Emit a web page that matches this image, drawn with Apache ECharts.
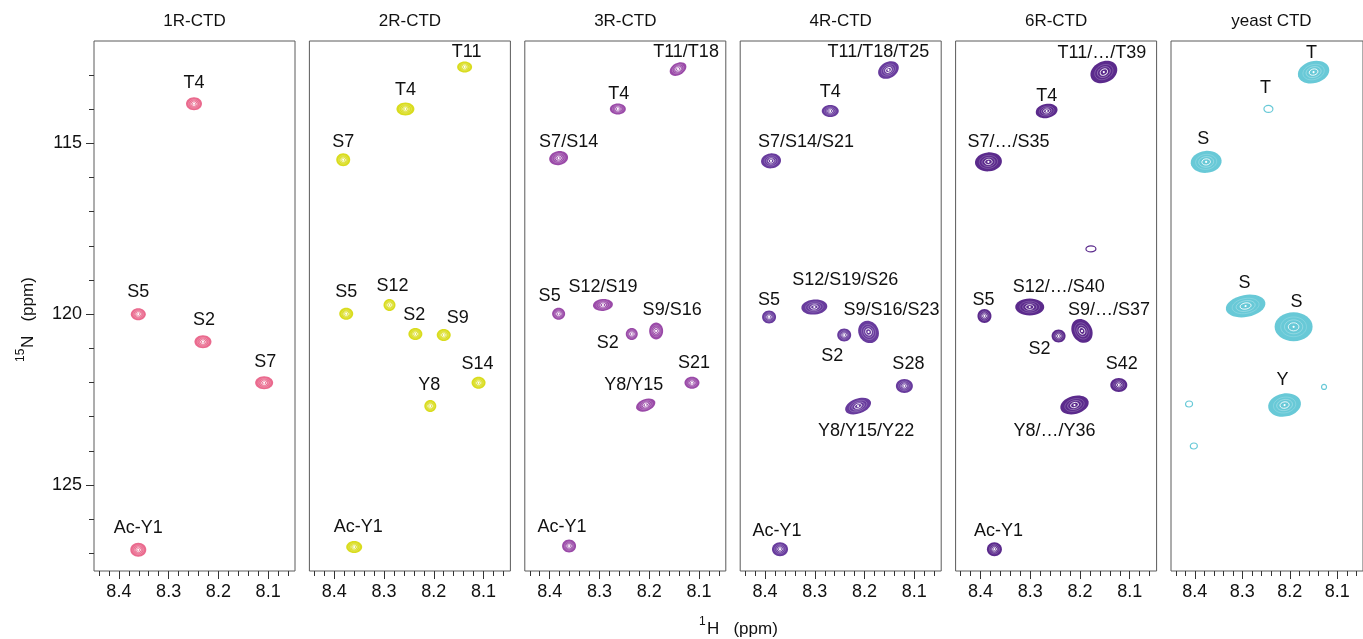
<!DOCTYPE html>
<html>
<head>
<meta charset="utf-8">
<title>CTD 1H-15N HSQC spectra</title>
<script src="https://cdn.jsdelivr.net/npm/echarts@6/dist/echarts.min.js"></script>
<style>
  html, body { margin: 0; padding: 0; background: #ffffff; }
  #chart { width: 1363px; height: 639px; }
</style>
</head>
<body>
<div id="chart"></div>
<script>
// Panel titles
const panelTitles = ['1R-CTD', '2R-CTD', '3R-CTD', '4R-CTD', '6R-CTD', 'yeast CTD'];

// Tick labels
const hTickLabels = [8.1, 8.2, 8.3, 8.4];
const nTickLabels = [115, 120, 125];

// Peak lists: [1H ppm, 15N ppm, assignment]
const peaks1R = [
  [8.249, 113.84, 'T4'],
  [8.361, 120.00, 'S5'],
  [8.231, 120.81, 'S2'],
  [8.108, 122.01, 'S7'],
  [8.361, 126.90, 'Ac-Y1']
];
const peaks2R = [
  [8.138, 112.76, 'T11'],
  [8.257, 113.99, 'T4'],
  [8.382, 115.48, 'S7'],
  [8.376, 119.99, 'S5'],
  [8.289, 119.73, 'S12'],
  [8.237, 120.58, 'S2'],
  [8.180, 120.61, 'S9'],
  [8.110, 122.01, 'S14'],
  [8.207, 122.69, 'Y8'],
  [8.360, 126.82, 'Ac-Y1']
];
const peaks3R = [
  [8.142, 112.82, 'T11/T18'],
  [8.263, 113.99, 'T4'],
  [8.382, 115.43, 'S7/S14'],
  [8.382, 119.99, 'S5'],
  [8.293, 119.73, 'S12/S19'],
  [8.235, 120.58, 'S2'],
  [8.186, 120.49, 'S9/S16'],
  [8.114, 122.01, 'S21'],
  [8.207, 122.66, 'Y8/Y15'],
  [8.361, 126.79, 'Ac-Y1']
];
const peaks4R = [
  [8.152, 112.85, 'T11/T18/T25'],
  [8.269, 114.05, 'T4'],
  [8.388, 115.51, 'S7/S14/S21'],
  [8.392, 120.08, 'S5'],
  [8.301, 119.79, 'S12/S19/S26'],
  [8.241, 120.61, 'S2'],
  [8.192, 120.52, 'S9/S16/S23'],
  [8.120, 122.10, 'S28'],
  [8.213, 122.69, 'Y8/Y15/Y22'],
  [8.370, 126.88, 'Ac-Y1']
];
const peaks6R = [
  [8.152, 112.91, 'T11/…/T39'],
  [8.267, 114.05, 'T4'],
  [8.384, 115.54, 'S7/…/S35'],
  [8.178, 118.09, ''],
  [8.392, 120.05, 'S5'],
  [8.301, 119.79, 'S12/…/S40'],
  [8.243, 120.64, 'S2'],
  [8.196, 120.49, 'S9/…/S37'],
  [8.122, 122.07, 'S42'],
  [8.211, 122.66, 'Y8/…/Y36'],
  [8.372, 126.88, 'Ac-Y1']
];
const peaksYeast = [
  [8.150, 112.91, 'T'],
  [8.245, 113.99, 'T'],
  [8.376, 115.54, 'S'],
  [8.293, 119.76, 'S'],
  [8.192, 120.37, 'S'],
  [8.211, 122.66, 'Y'],
  [8.412, 122.63, ''],
  [8.402, 123.86, ''],
  [8.128, 122.13, '']
];
const panelPeaks = [peaks1R, peaks2R, peaks3R, peaks4R, peaks6R, peaksYeast];

// Contour colours per construct
const panelColors = ['#ea6a8e', '#d9dc1e', '#9a4aa8', '#683b9d', '#5b2a8c', '#68c9d7'];

// Drawing style per peak: [width px, height px, tilt deg, label dx, label dy, outline-only]
const peakStyles = [
  [[16,13,0,0,-21],[15,12,0,0,-22],[17,13,0,1,-22],[18,13,0,1,-21],[16,14,0,0,-22]],
  [[15,11,0,2,-15],[18,13,0,0,-19],[14,13,0,0,-18],[14,12,0,0,-22],[12,12,0,3,-19],
   [14,12,0,-1,-19],[14,12,0,14,-17],[14,12,0,-1,-19],[12,12,0,-1,-21],[16,12,0,4,-20]],
  [[18,12,30,8,-17],[16,11,0,1,-15],[19,14,10,10,-16],[13,12,0,-9,-18],[20,12,5,0,-18],
   [12,12,0,-24,9],[14,17,0,16,-21],[15,12,0,2,-20],[20,12,20,-12,-20],[14,13,0,-7,-19]],
  [[22,16,30,-10,-18],[17,12,0,0,-19],[20,15,5,35,-19],[14,13,0,0,-17],[26,15,5,31,-27],
   [14,13,0,-12,21],[20,23,30,23,-22],[17,14,0,4,-22],[27,15,20,8,25],[16,14,0,-3,-18]],
  [[28,21,25,-2,-19],[22,14,10,0,-15],[27,19,5,20,-20],[10,6,0,0,0,1],[14,14,0,-1,-16],
   [29,17,0,29,-20],[14,13,0,-19,13],[20,25,30,27,-21],[17,14,0,3,-21],[29,18,15,-20,26],[15,14,0,4,-18]],
  [[32,22,15,-2,-19],[9,7,0,-3,-21,1],[31,22,5,-3,-23],[40,22,10,-1,-23],[38,29,0,3,-25],
   [33,23,10,-2,-25],[7,6,0,0,0,1],[7,6,0,0,0,1],[5,5,0,0,0,1]]
];

const H_MIN = 8.046, H_MAX = 8.45;
const N_MIN = 112, N_MAX = 127.52;
const FONT = '"Liberation Sans", Arial, Helvetica, sans-serif';

const GRID_LEFT = 94, GRID_STEP = 215.4, GRID_W = 201, GRID_TOP = 41, GRID_H = 530;

const hMinorTicks = [];
for (let k = 403; k <= 422; k++) hMinorTicks.push(+(k * 0.02).toFixed(2));
const nMinorTicks = [];
for (let v = 113; v <= 127; v++) nMinorTicks.push(v);

const grids = [], xAxes = [], yAxes = [], series = [], graphics = [];

panelTitles.forEach(function (title, i) {
  const left = GRID_LEFT + i * GRID_STEP;
  grids.push({
    left: left, top: GRID_TOP, width: GRID_W, height: GRID_H,
    show: true, borderColor: '#5a5a5a', borderWidth: 1, backgroundColor: 'transparent'
  });
  // major ticks with labels
  xAxes.push({
    gridIndex: i, type: 'value', min: H_MIN, max: H_MAX, inverse: true, position: 'bottom',
    axisLine: { show: false }, splitLine: { show: false },
    axisTick: { show: true, length: 8, customValues: hTickLabels, lineStyle: { color: '#333', width: 1 } },
    axisLabel: {
      customValues: hTickLabels, formatter: function (v) { return v.toFixed(1); },
      fontSize: 18, color: '#111', fontFamily: FONT, margin: 12
    }
  });
  // minor ticks
  xAxes.push({
    gridIndex: i, type: 'value', min: H_MIN, max: H_MAX, inverse: true, position: 'bottom',
    axisLine: { show: false }, splitLine: { show: false },
    axisTick: { show: true, length: 5, customValues: hMinorTicks, lineStyle: { color: '#333', width: 1 } },
    axisLabel: { show: false }
  });
  if (i === 0) {
    yAxes.push({
      gridIndex: 0, type: 'value', min: N_MIN, max: N_MAX, inverse: true, position: 'left',
      axisLine: { show: false }, splitLine: { show: false },
      axisTick: { show: true, length: 8, customValues: nTickLabels, lineStyle: { color: '#333', width: 1 } },
      axisLabel: { customValues: nTickLabels, fontSize: 18, color: '#111', fontFamily: FONT, margin: 12 }
    });
    yAxes.push({
      gridIndex: 0, type: 'value', min: N_MIN, max: N_MAX, inverse: true, position: 'left',
      axisLine: { show: false }, splitLine: { show: false },
      axisTick: { show: true, length: 5, customValues: nMinorTicks, lineStyle: { color: '#333', width: 1 } },
      axisLabel: { show: false }
    });
  } else {
    yAxes.push({
      gridIndex: i, type: 'value', min: N_MIN, max: N_MAX, inverse: true, show: false
    });
  }

  graphics.push({
    type: 'text', x: left + GRID_W / 2, y: 21,
    style: { text: title, fill: '#111', font: '17px ' + FONT, align: 'center', verticalAlign: 'middle' }
  });

  const peaks = panelPeaks[i];
  const styles = peakStyles[i];
  const color = panelColors[i];
  series.push({
    type: 'custom',
    xAxisIndex: 2 * i,
    yAxisIndex: i === 0 ? 0 : i + 1,
    data: peaks.map(function (p) { return [p[0], p[1]]; }),
    renderItem: function (params, api) {
      const idx = params.dataIndex;
      const pt = api.coord([api.value(0), api.value(1)]);
      const st = styles[idx];
      const rx = st[0] / 2, ry = st[1] / 2;
      const children = [];
      let blob;
      if (st[5]) {
        blob = {
          type: 'group', x: pt[0], y: pt[1], rotation: st[2] * Math.PI / 180,
          children: [{
            type: 'ellipse', shape: { cx: 0, cy: 0, rx: rx, ry: ry },
            style: { fill: 'none', stroke: color, lineWidth: 1.2 }
          }]
        };
      } else {
        blob = {
          type: 'group', x: pt[0], y: pt[1], rotation: st[2] * Math.PI / 180,
          children: [
            { type: 'ellipse', shape: { cx: 0, cy: 0, rx: rx, ry: ry }, style: { fill: color } },
            { type: 'ellipse', shape: { cx: 0, cy: 0, rx: rx * 0.68, ry: ry * 0.68 },
              style: { fill: 'none', stroke: 'rgba(255,255,255,0.25)', lineWidth: 0.7 } },
            { type: 'ellipse', shape: { cx: 0, cy: 0, rx: rx * 0.48, ry: ry * 0.48 },
              style: { fill: 'none', stroke: 'rgba(255,255,255,0.4)', lineWidth: 0.7 } },
            { type: 'ellipse', shape: { cx: 0, cy: 0, rx: Math.max(rx * 0.28, 2.2), ry: Math.max(ry * 0.28, 1.8) },
              style: { fill: 'none', stroke: 'rgba(255,255,255,0.9)', lineWidth: 0.9 } },
            { type: 'circle', shape: { cx: 0, cy: 0, r: 1.1 }, style: { fill: '#ffffff' } }
          ]
        };
      }
      children.push(blob);
      const label = peaks[idx][2];
      if (label) {
        children.push({
          type: 'text', x: pt[0] + st[3], y: pt[1] + st[4],
          style: { text: label, fill: '#111', font: '18px ' + FONT, align: 'center', verticalAlign: 'middle' }
        });
      }
      return { type: 'group', children: children };
    }
  });
});

// Axis titles with superscript isotopes
graphics.push({
  type: 'group', x: 28, y: 312, rotation: Math.PI / 2,
  children: [
    { type: 'text', x: -50, y: -7,
      style: { text: '15', fill: '#111', font: '12px ' + FONT, align: 'left', verticalAlign: 'middle' } },
    { type: 'text', x: -36, y: 0,
      style: { text: 'N   (ppm)', fill: '#111', font: '17px ' + FONT, align: 'left', verticalAlign: 'middle' } }
  ]
});
graphics.push({
  type: 'group', x: 0, y: 0,
  children: [
    { type: 'text', x: 699, y: 622,
      style: { text: '1', fill: '#111', font: '12px ' + FONT, align: 'left', verticalAlign: 'middle' } },
    { type: 'text', x: 707, y: 629,
      style: { text: 'H   (ppm)', fill: '#111', font: '17px ' + FONT, align: 'left', verticalAlign: 'middle' } }
  ]
});

const chart = echarts.init(document.getElementById('chart'), null, { renderer: 'canvas' });
chart.setOption({
  animation: false,
  backgroundColor: '#ffffff',
  grid: grids,
  xAxis: xAxes,
  yAxis: yAxes,
  series: series,
  graphic: graphics
});
</script>
</body>
</html>
